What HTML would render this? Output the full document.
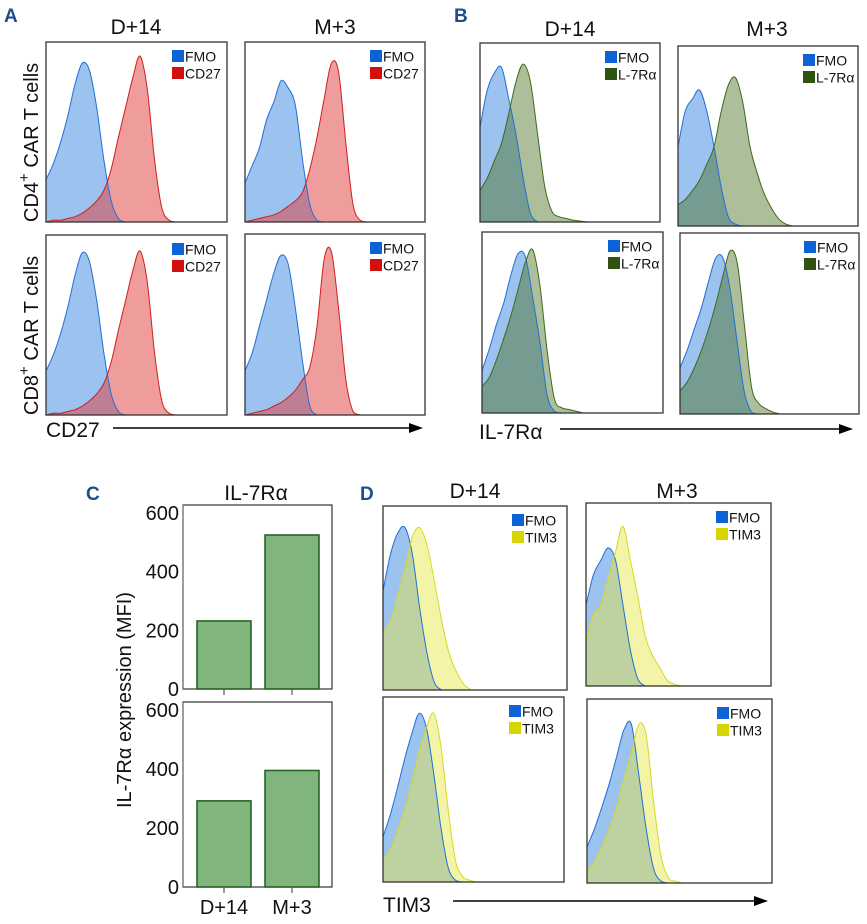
<!DOCTYPE html>
<html><head><meta charset="utf-8"><style>
body{margin:0;background:#fff;}
svg{display:block;font-family:"Liberation Sans",Arial,sans-serif;}
</style></head><body>
<svg id="fig" width="867" height="924" viewBox="0 0 867 924" xmlns="http://www.w3.org/2000/svg">
<g font-weight="bold" fill="#1b4e8a" font-size="19">
<text x="4" y="22">A</text>
<text x="454" y="22">B</text>
<text x="86" y="500">C</text>
<text x="360" y="500">D</text>
</g>
<g font-size="21" fill="#111" text-anchor="middle">
<text x="136" y="34">D+14</text>
<text x="335" y="34">M+3</text>
<text x="570" y="36">D+14</text>
<text x="767" y="36">M+3</text>
<text x="475" y="498">D+14</text>
<text x="677" y="498">M+3</text>
<text x="256" y="500">IL-7Rα</text>
</g>
<g font-size="20" fill="#111">
<text transform="translate(38,222) rotate(-90)">CD4<tspan dy="-9" font-size="15">+</tspan><tspan dy="9"> CAR T cells</tspan></text>
<text transform="translate(38,415) rotate(-90)">CD8<tspan dy="-9" font-size="15">+</tspan><tspan dy="9"> CAR T cells</tspan></text>
</g>
<g id="hists"></g>
<g id="axes-labels" font-size="21" fill="#111">
<text x="46" y="437">CD27</text>
<text x="479" y="439">IL-7Rα</text>
<text x="383" y="912">TIM3</text>
</g>
<g id="bars"></g>
</svg>
<script>
// ---- histogram data (height fraction at x = i*0.04 of panel width) ----
const aTLfmo=[0.24,0.33,0.45,0.60,0.78,0.90,0.86,0.65,0.35,0.12,0.02,0];
const aTLcd27=[0,0.01,0.01,0.02,0.03,0.05,0.08,0.12,0.18,0.30,0.48,0.65,0.82,0.94,0.75,0.35,0.08,0.01,0];
const aTRfmo=[0.22,0.32,0.42,0.58,0.68,0.80,0.76,0.66,0.35,0.10,0.01,0];
const aTRcd27=[0,0.01,0.02,0.03,0.04,0.06,0.09,0.12,0.17,0.30,0.48,0.70,0.90,0.85,0.45,0.10,0.01,0];
const aBLfmo=[0.25,0.34,0.46,0.61,0.79,0.92,0.87,0.65,0.35,0.12,0.02,0];
const aBLcd27=[0,0.01,0.01,0.02,0.03,0.05,0.08,0.12,0.18,0.30,0.48,0.65,0.82,0.93,0.75,0.35,0.08,0.01,0];
const aBRfmo=[0.25,0.35,0.50,0.65,0.80,0.90,0.85,0.60,0.30,0.05,0];
const aBRcd27=[0,0.01,0.02,0.03,0.05,0.07,0.10,0.14,0.20,0.27,0.50,0.88,0.92,0.60,0.20,0.02,0];
const bTLfmo=[0.54,0.75,0.85,0.88,0.70,0.50,0.25,0.05,0];
const bTLil7=[0.18,0.25,0.35,0.45,0.62,0.80,0.90,0.80,0.50,0.20,0.06,0.03,0.02,0.01,0.005,0];
const bTRfmo=[0.45,0.65,0.72,0.77,0.65,0.45,0.22,0.05,0.01,0];
const bTRil7=[0.12,0.15,0.20,0.26,0.35,0.45,0.65,0.80,0.84,0.70,0.45,0.30,0.18,0.10,0.04,0.01,0];
const bBLfmo=[0.24,0.36,0.50,0.62,0.78,0.90,0.88,0.65,0.40,0.10,0.01,0];
const bBLil7=[0.15,0.20,0.30,0.42,0.55,0.70,0.85,0.92,0.72,0.35,0.08,0.03,0.02,0.01,0];
const bBRfmo=[0.26,0.36,0.48,0.60,0.75,0.88,0.88,0.70,0.40,0.12,0.01,0];
const bBRil7=[0.13,0.18,0.26,0.36,0.48,0.62,0.78,0.92,0.85,0.50,0.15,0.06,0.03,0.01,0];
const dTLfmo=[0.55,0.75,0.87,0.90,0.75,0.45,0.20,0.04,0];
const dTLtim=[0.32,0.38,0.52,0.68,0.85,0.90,0.80,0.60,0.38,0.20,0.10,0.03,0];
const dTRfmo=[0.45,0.62,0.70,0.77,0.70,0.45,0.20,0.04,0];
const dTRtim=[0.25,0.40,0.45,0.60,0.75,0.89,0.70,0.50,0.28,0.17,0.10,0.03,0.01,0];
const dBLfmo=[0.25,0.37,0.52,0.68,0.82,0.93,0.85,0.60,0.30,0.08,0.01,0];
const dBLtim=[0.12,0.18,0.28,0.40,0.55,0.72,0.85,0.93,0.75,0.40,0.12,0.03,0.01,0];
const dBRfmo=[0.20,0.30,0.42,0.55,0.70,0.85,0.88,0.60,0.30,0.08,0.01,0];
const dBRtim=[0.07,0.12,0.20,0.30,0.42,0.58,0.72,0.88,0.82,0.45,0.15,0.03,0.01,0];
// ---- bar chart data ----
const barCategories=["D+14","M+3"];
const barCD4=[232,525];
const barCD8=[292,395];
const barTicks=[0,200,400,600];

const NS="http://www.w3.org/2000/svg";
function mk(tag,attrs,parent){const e=document.createElementNS(NS,tag);for(const k in attrs)e.setAttribute(k,attrs[k]);if(parent)parent.appendChild(e);return e;}

const markers={
 cd27:{name:"CD27",fill:"#e03a3a",op:0.5,stroke:"#d21e1e",sw:"#d40f0f"},
 il7:{name:"L-7Rα",fill:"#4a6e20",op:0.45,stroke:"#3d6a1a",sw:"#2f5410"},
 tim:{name:"TIM3",fill:"#e6e640",op:0.45,stroke:"#d8d820",sw:"#d6d600"}
};
const panels=[
 {id:"a-cd4-d14",x:46,y:42,w:181,h:180,f:aTLfmo,m:aTLcd27,k:"cd27"},
 {id:"a-cd4-m3",x:245,y:42,w:180,h:180,f:aTRfmo,m:aTRcd27,k:"cd27"},
 {id:"a-cd8-d14",x:46,y:235,w:181,h:180,f:aBLfmo,m:aBLcd27,k:"cd27"},
 {id:"a-cd8-m3",x:245,y:234,w:180,h:181,f:aBRfmo,m:aBRcd27,k:"cd27"},
 {id:"b-cd4-d14",x:480,y:43,w:180,h:179,f:bTLfmo,m:bTLil7,k:"il7"},
 {id:"b-cd4-m3",x:678,y:46,w:180,h:180,f:bTRfmo,m:bTRil7,k:"il7"},
 {id:"b-cd8-d14",x:482,y:232,w:181,h:181,f:bBLfmo,m:bBLil7,k:"il7"},
 {id:"b-cd8-m3",x:680,y:233,w:179,h:181,f:bBRfmo,m:bBRil7,k:"il7"},
 {id:"d-cd4-d14",x:383,y:506,w:184,h:184,f:dTLfmo,m:dTLtim,k:"tim"},
 {id:"d-cd4-m3",x:586,y:503,w:185,h:183,f:dTRfmo,m:dTRtim,k:"tim"},
 {id:"d-cd8-d14",x:383,y:697,w:181,h:185,f:dBLfmo,m:dBLtim,k:"tim"},
 {id:"d-cd8-m3",x:587,y:699,w:185,h:184,f:dBRfmo,m:dBRtim,k:"tim"}
];
const H=document.getElementById("hists");
function areaPath(p,vals,closed){
 const xs=i=>p.x+i*0.04*p.w, ys=v=>p.y+p.h-v*p.h*0.98;
 const pts=vals.map((v,i)=>[xs(i),ys(v)]);
 let d="M"+pts[0][0]+","+pts[0][1];
 for(let i=0;i<pts.length-1;i++){
  const p0=pts[Math.max(0,i-1)],p1=pts[i],p2=pts[i+1],p3=pts[Math.min(pts.length-1,i+2)];
  const c1x=p1[0]+(p2[0]-p0[0])/6,c1y=p1[1]+(p2[1]-p0[1])/6;
  const c2x=p2[0]-(p3[0]-p1[0])/6,c2y=p2[1]-(p3[1]-p1[1])/6;
  d+=" C"+c1x+","+Math.min(c1y,p.y+p.h)+" "+c2x+","+Math.min(c2y,p.y+p.h)+" "+p2[0]+","+p2[1];
 }
 d+=" L"+(p.x+p.w)+","+(p.y+p.h);
 if(closed)d+=" L"+p.x+","+(p.y+p.h)+" Z";
 return d;
}
panels.forEach(p=>{
 const mkr=markers[p.k];
 const g=mk("g",{},H);
 
 
 const f1=mk("path",{d:areaPath(p,p.f,true),fill:"#4a90e2","fill-opacity":0.55,stroke:"none"},g);
 
 
 const f2=mk("path",{d:areaPath(p,p.m,true),fill:mkr.fill,"fill-opacity":mkr.op,stroke:"none"},g);
 
 
 const l1=mk("path",{d:areaPath(p,p.f,false),fill:"none",stroke:"#1f6fd6","stroke-width":1},g);
 
 
 const l2=mk("path",{d:areaPath(p,p.m,false),fill:"none",stroke:mkr.stroke,"stroke-width":1},g);
 
 
 const fr=mk("rect",{x:p.x,y:p.y,width:p.w,height:p.h,fill:"none",stroke:"#333","stroke-width":1.3},g);
 
 
 const lg=mk("g",{"font-size":"14",fill:"#111"},g);
 
 
 const lx=p.x+p.w-55, ly=p.y+8;
 const s1=mk("rect",{x:lx,y:ly,width:12,height:12,fill:"#0d63d6"},lg);
 
 
 const t1=mk("text",{x:lx+13,y:ly+11.5},lg);t1.textContent="FMO";
 
 
 const s2=mk("rect",{x:lx,y:ly+17,width:12,height:12,fill:mkr.sw},lg);
 
 
 const t2=mk("text",{x:lx+13,y:ly+28.5},lg);t2.textContent=mkr.name;
 
 
});
// arrows
[[113,423,428],[560,853,429],[453,768,901]].forEach(a=>{
 const g=mk("g",{},H);
 
 
 mk("line",{x1:a[0],y1:a[2],x2:a[1]-12,y2:a[2],stroke:"#000","stroke-width":1.5},g);
 mk("path",{d:"M"+(a[1]-14)+","+(a[2]-5)+" L"+a[1]+","+a[2]+" L"+(a[1]-14)+","+(a[2]+5)+" Z",fill:"#000"},g);
});
// ---- bar charts ----
const B=document.getElementById("bars");
const bx0=183,bx1=332;
const barX=[197,265], barW=54;
function drawBar(vals,top,zero,pid,showCat){
 const y=v=>zero-(v/600)*(zero-top);
 const g=mk("g",{},B);
 
 
 mk("rect",{x:bx0,y:top-8,width:bx1-bx0,height:zero-top+8,fill:"none",stroke:"#333","stroke-width":1.2},g);
 mk("line",{x1:bx0,y1:top-8,x2:bx0,y2:zero,stroke:"#777","stroke-width":1.2},g);
 barTicks.forEach(t=>{
  const tl=mk("text",{x:bx0-4,y:y(t)+7,"text-anchor":"end","font-size":"20",fill:"#111"},g);
  tl.textContent=t;
  
  
 });
 vals.forEach((v,i)=>{
  const r=mk("rect",{x:barX[i],y:y(v),width:barW,height:zero-y(v),fill:"#80b57e",stroke:"#1f5e1f","stroke-width":1.5},g);
  
  
  mk("line",{x1:barX[i]+barW/2,y1:zero,x2:barX[i]+barW/2,y2:zero+6,stroke:"#555","stroke-width":1.2},g);
  if(showCat){
   const c=mk("text",{x:barX[i]+barW/2,y:zero+27,"text-anchor":"middle","font-size":"20",fill:"#111"},g);
   c.textContent=barCategories[i];
   
   
  }
 });
}
drawBar(barCD4,513,689,"cd4",false);
drawBar(barCD8,710,887,"cd8",true);
const yt=mk("text",{transform:"translate(131,700) rotate(-90)","text-anchor":"middle","font-size":"20",fill:"#111"},B);
yt.textContent="IL-7Rα expression (MFI)";


</script>
</body></html>
